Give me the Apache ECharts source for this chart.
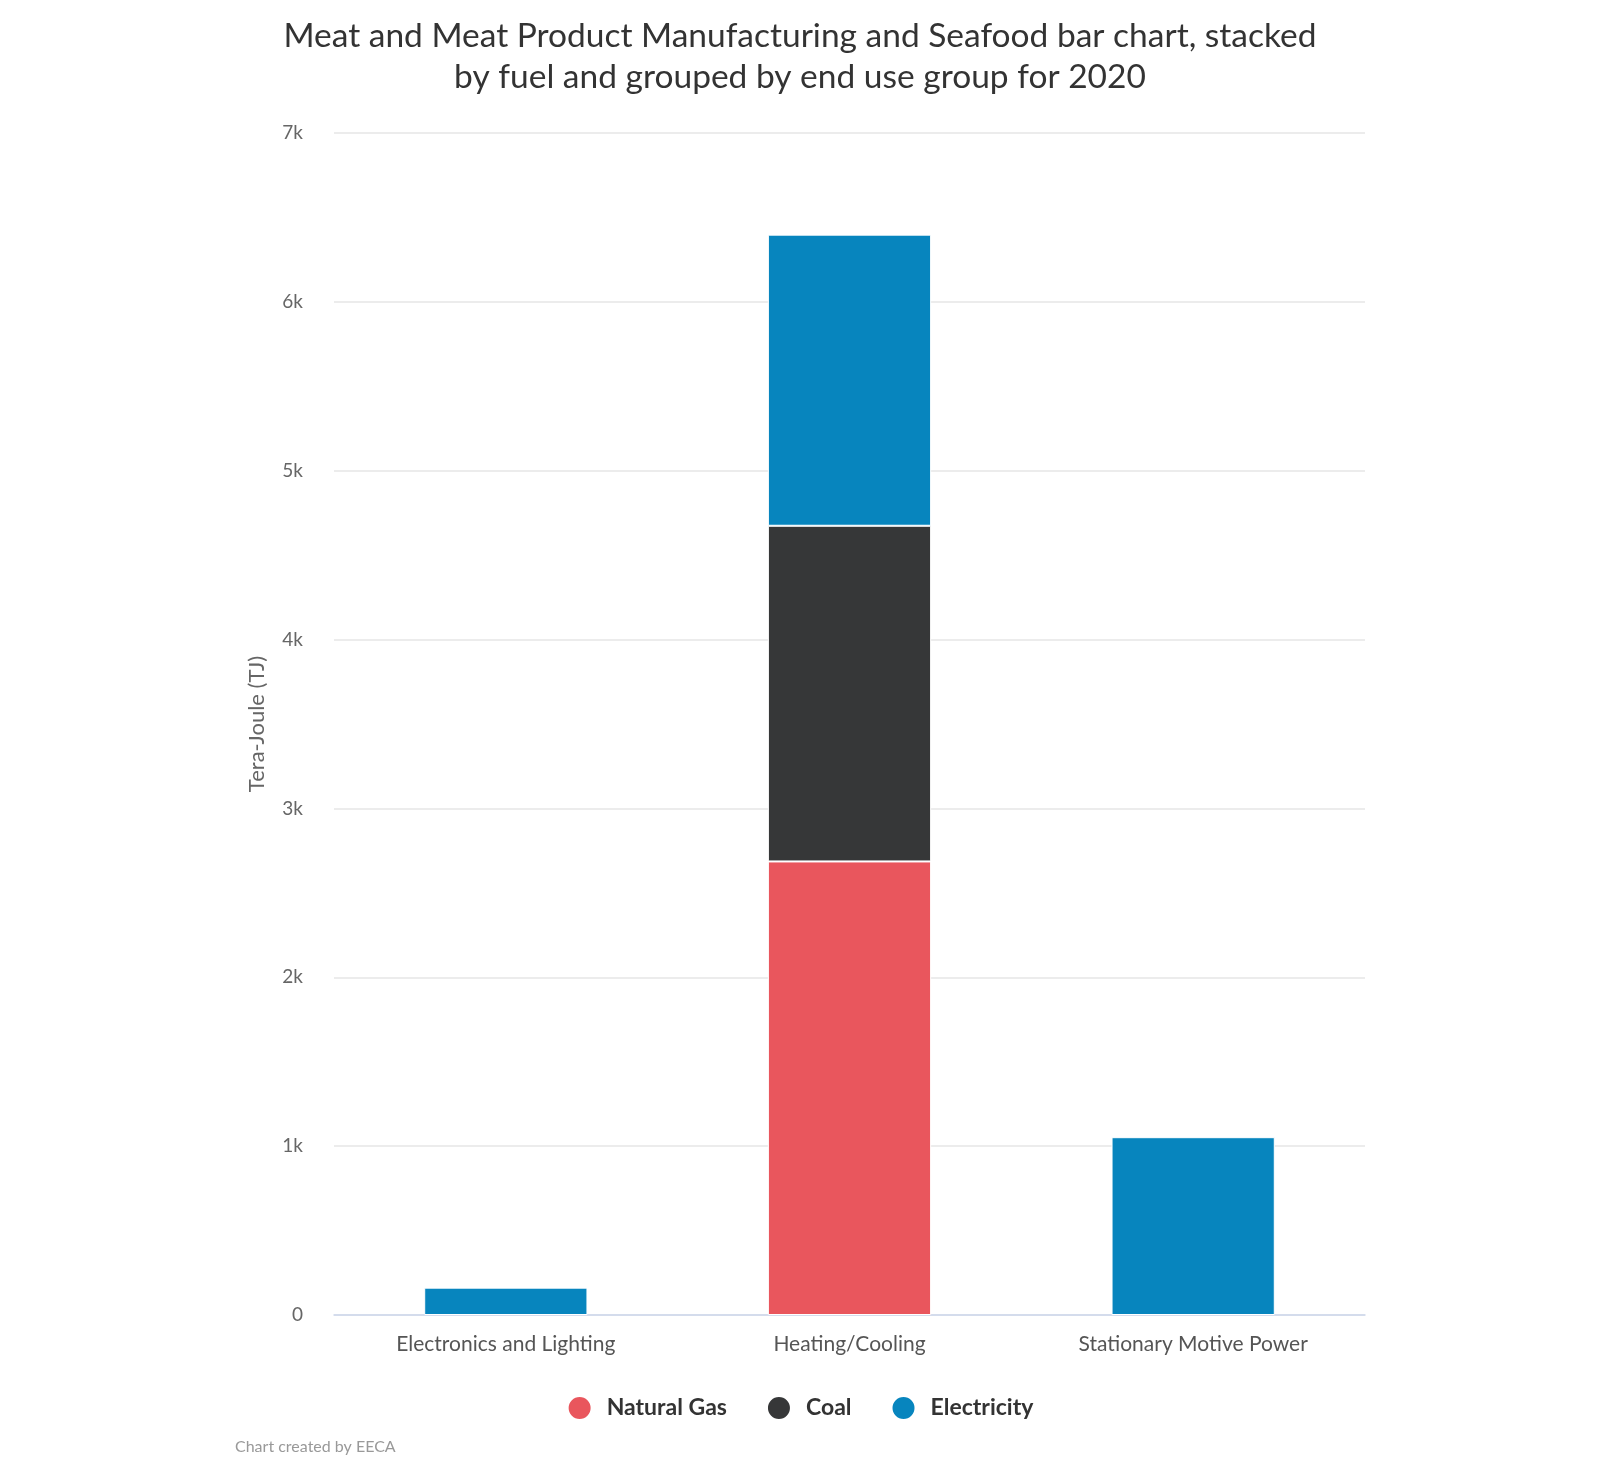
<!DOCTYPE html>
<html><head><meta charset="utf-8">
<script src="https://cdn.jsdelivr.net/npm/echarts@6/dist/echarts.min.js"></script>
<style>html,body{margin:0;padding:0;background:#fff}#c{width:1600px;height:1461px}</style>
</head><body><div id="c"></div>
<script>
const categories = ['Electronics and Lighting', 'Heating/Cooling', 'Stationary Motive Power'];
const naturalGas = [0, 2686, 0];
const coal = [0, 1988, 0];
const electricity = [162, 1724, 1053];
const yTicks = [0, 1000, 2000, 3000, 4000, 5000, 6000, 7000];

const FONT = 'Lato';
const chart = echarts.init(document.getElementById('c'), null, {renderer: 'canvas'});
const mk = (name, data, color) => ({
  name, type: 'bar', stack: 'total', data: data.map(v => v === 0 ? null : v),
  barWidth: '47.5%',
  itemStyle: {color, borderColor: '#fff', borderWidth: 1},
  emphasis: {disabled: true}
});
chart.setOption({
  animation: false,
  textStyle: {fontFamily: FONT},
  title: {
    text: 'Meat and Meat Product Manufacturing and Seafood bar chart, stacked\nby fuel and grouped by end use group for 2020',
    left: 'center', top: 11,
    textStyle: {fontFamily: FONT, fontSize: 33.5, fontWeight: 'normal', color: '#333', lineHeight: 41}
  },
  grid: {left: 334, right: 235, top: 133, bottom: 146},
  legend: {
    bottom: 35, left: 'center', icon: 'circle', itemWidth: 44, itemHeight: 24, itemGap: 39,
    textStyle: {fontFamily: FONT, fontSize: 23, fontWeight: 'bold', color: '#333'},
    data: ['Natural Gas', 'Coal', 'Electricity']
  },
  graphic: [{type: 'text', left: 235, top: 1439, style: {text: 'Chart created by EECA', fill: '#999', fontSize: 16, fontFamily: FONT}}],
  xAxis: {
    type: 'category', data: categories,
    axisLine: {lineStyle: {color: '#ccd6eb', width: 1.5}},
    axisTick: {show: false},
    axisLabel: {fontSize: 21, color: '#555', margin: 19, fontFamily: FONT}
  },
  yAxis: {
    type: 'value', min: yTicks[0], max: yTicks[yTicks.length - 1], interval: 1000,
    name: 'Tera-Joule (TJ)', nameLocation: 'middle', nameGap: 66,
    nameTextStyle: {fontSize: 22, color: '#666', fontFamily: FONT},
    axisLabel: {fontSize: 19, color: '#666', margin: 31, fontFamily: FONT,
      formatter: v => v === 0 ? '0' : (v / 1000) + 'k'},
    splitLine: {lineStyle: {color: '#e6e6e6', width: 1.5}},
    axisLine: {show: false}, axisTick: {show: false}
  },
  series: [
    mk('Natural Gas', naturalGas, '#e9565d'),
    mk('Coal', coal, '#363738'),
    mk('Electricity', electricity, '#0785be')
  ]
});
</script></body></html>
